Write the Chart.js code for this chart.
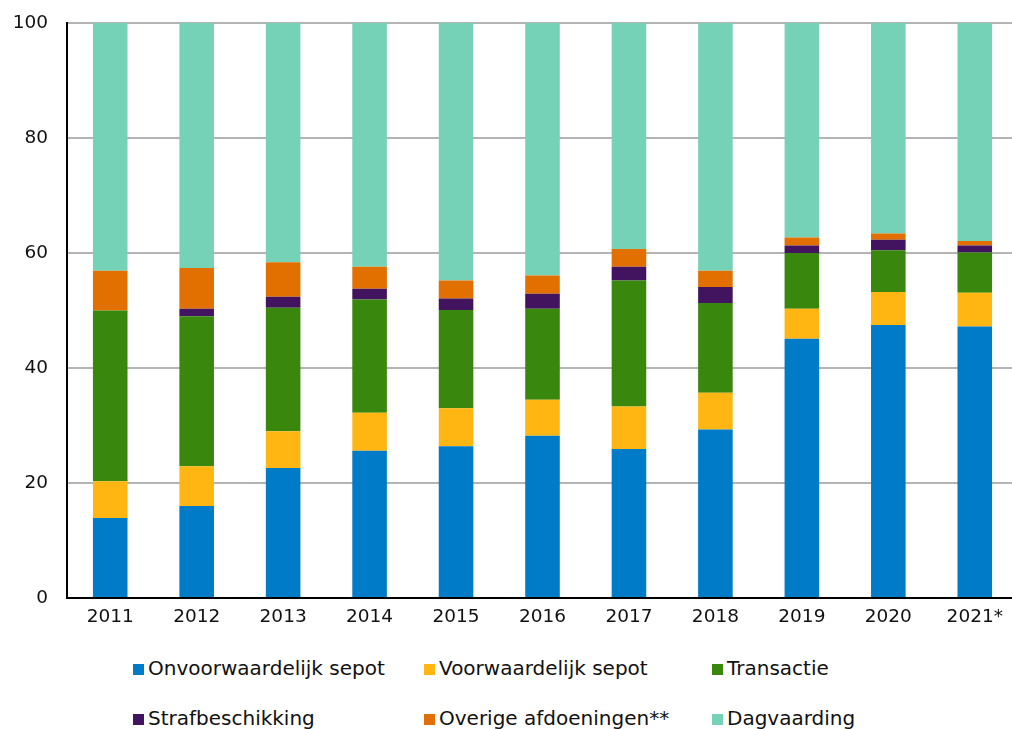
<!DOCTYPE html>
<html lang="nl">
<head>
<meta charset="UTF-8">
<title>Afdoeningen</title>
<script src="https://cdn.jsdelivr.net/npm/chart.js"></script>
<style>
    body {
        margin: 0;
        background: #fff;
        font-family: "DejaVu Sans", Verdana, sans-serif;
        overflow: hidden;
        width: 1012px;
        height: 729px;
    }
    #wrap {
        position: absolute;
        left: 0;
        top: 0;
        width: 1018px;
        height: 640px;
    }
    .item {
        position: absolute;
        font-size: 20px;
        color: #111;
        white-space: nowrap;
        line-height: 22px;
    }
    .item span {
        display: inline-block;
        width: 11px;
        height: 11px;
        margin-right: 4px;
        vertical-align: 0px;
    }
</style>
</head>
<body>
<div id="wrap"><canvas id="chart"></canvas></div>
<div id="legend"></div>

<script>
const years = ['2011', '2012', '2013', '2014', '2015', '2016', '2017', '2018', '2019', '2020', '2021*'];

const onvoorwaardelijk = [13.9, 16.0, 22.6, 25.6, 26.4, 28.2, 25.9, 29.3, 45.1, 47.5, 47.2];
const voorwaardelijk   = [6.4, 6.9, 6.4, 6.6, 6.6, 6.3, 7.4, 6.4, 5.2, 5.7, 5.9];
const transactie       = [29.7, 26.1, 21.5, 19.7, 17.1, 15.8, 21.9, 15.6, 9.7, 7.3, 7.0];
const strafbeschikking = [0.0, 1.3, 1.9, 1.9, 2.0, 2.6, 2.4, 2.8, 1.3, 1.8, 1.2];
const overige          = [6.9, 7.1, 6.0, 3.8, 3.1, 3.2, 3.1, 2.8, 1.4, 1.1, 0.8];
const dagvaarding      = [43.1, 42.6, 41.6, 42.4, 44.8, 43.9, 39.3, 43.1, 37.3, 36.6, 37.9];

const seriesNames  = ['Onvoorwaardelijk sepot', 'Voorwaardelijk sepot', 'Transactie',
                      'Strafbeschikking', 'Overige afdoeningen**', 'Dagvaarding'];
const seriesData   = [onvoorwaardelijk, voorwaardelijk, transactie, strafbeschikking, overige, dagvaarding];
const seriesColors = ['#007bc7', '#ffb612', '#39870c', '#42145f', '#e17000', '#76d2b6'];

const yTicks = [0, 20, 40, 60, 80, 100];

// legend: three columns, two rows
const legendLeft = [133, 424, 712];
const legendTop = [657, 707];
const legend = document.getElementById('legend');
seriesNames.forEach((name, i) => {
    const el = document.createElement('div');
    el.className = 'item';
    el.style.left = legendLeft[i % 3] + 'px';
    el.style.top = legendTop[Math.floor(i / 3)] + 'px';
    el.innerHTML = '<span style="background:' + seriesColors[i] + '"></span>' + name;
    legend.appendChild(el);
});

new Chart(document.getElementById('chart'), {
    type: 'bar',
    data: {
        labels: years,
        datasets: seriesNames.map((name, i) => ({
            label: name,
            data: seriesData[i],
            backgroundColor: seriesColors[i],
            borderWidth: 0,
            barPercentage: 0.4,
            categoryPercentage: 1.0
        }))
    },
    options: {
        responsive: true,
        maintainAspectRatio: false,
        animation: false,
        layout: { padding: { top: 23, left: 0, right: 0, bottom: 0 } },
        plugins: {
            legend: { display: false },
            tooltip: { enabled: false }
        },
        scales: {
            x: {
                stacked: true,
                grid: { display: false, drawTicks: false },
                border: { display: true, color: '#000', width: 2 },
                ticks: {
                    color: '#111',
                    padding: 8,
                    maxRotation: 0,
                    font: { family: 'DejaVu Sans', size: 18.5 }
                },
                afterFit: scale => {
                    scale.height = 42;
                    scale.paddingLeft = 0;
                    scale.paddingRight = 0;
                }
            },
            y: {
                stacked: true,
                min: 0,
                max: 100,
                afterBuildTicks: scale => { scale.ticks = yTicks.map(v => ({ value: v })); },
                grid: { color: '#b4b4b4', lineWidth: 2, drawTicks: false },
                border: { display: true, color: '#000', width: 2 },
                ticks: {
                    color: '#111',
                    padding: 19,
                    font: { family: 'DejaVu Sans', size: 18.5 }
                },
                afterFit: scale => {
                    scale.width = 67;
                    scale.paddingTop = 0;
                    scale.paddingBottom = 0;
                }
            }
        }
    }
});
</script>
</body>
</html>
